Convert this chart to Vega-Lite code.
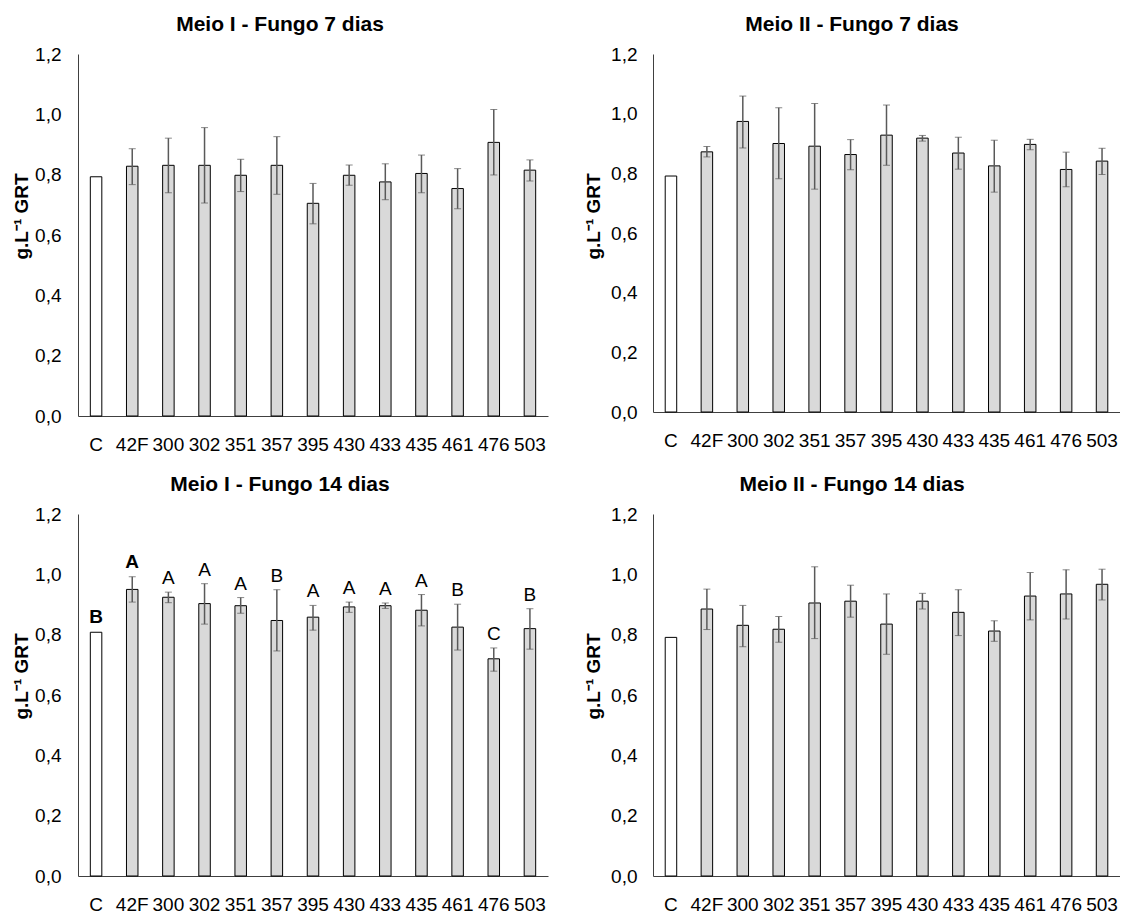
{
  "$schema": "https://vega.github.io/schema/vega-lite/v6.json",
  "padding": {"left": 12, "top": 14, "right": 0, "bottom": 0},
  "background": "white",
  "config": {
    "font": "Liberation Sans",
    "view": {"stroke": null},
    "axis": {"grid": false, "ticks": false, "tickSize": 0, "labelFontSize": 19, "labelColor": "#000", "domainColor": "#404040", "domainWidth": 1, "titleColor": "#000"},
    "title": {"fontSize": 21, "fontWeight": "bold", "color": "#000", "frame": "bounds", "anchor": "middle", "offset": 10}
  },
  "datasets": {
    "p1": [
      {"cat": "C", "mean": 0.793, "lo": 0.793, "hi": 0.793},
      {"cat": "42F", "mean": 0.828, "lo": 0.767, "hi": 0.886},
      {"cat": "300", "mean": 0.831, "lo": 0.740, "hi": 0.921},
      {"cat": "302", "mean": 0.831, "lo": 0.706, "hi": 0.956},
      {"cat": "351", "mean": 0.798, "lo": 0.744, "hi": 0.851},
      {"cat": "357", "mean": 0.831, "lo": 0.735, "hi": 0.926},
      {"cat": "395", "mean": 0.705, "lo": 0.637, "hi": 0.771},
      {"cat": "430", "mean": 0.798, "lo": 0.765, "hi": 0.832},
      {"cat": "433", "mean": 0.776, "lo": 0.717, "hi": 0.836},
      {"cat": "435", "mean": 0.804, "lo": 0.740, "hi": 0.865},
      {"cat": "461", "mean": 0.754, "lo": 0.687, "hi": 0.820},
      {"cat": "476", "mean": 0.907, "lo": 0.799, "hi": 1.016},
      {"cat": "503", "mean": 0.815, "lo": 0.779, "hi": 0.849}
    ],
    "p2": [
      {"cat": "C", "mean": 0.791, "lo": 0.791, "hi": 0.791},
      {"cat": "42F", "mean": 0.872, "lo": 0.855, "hi": 0.890},
      {"cat": "300", "mean": 0.974, "lo": 0.885, "hi": 1.059},
      {"cat": "302", "mean": 0.900, "lo": 0.782, "hi": 1.020},
      {"cat": "351", "mean": 0.891, "lo": 0.747, "hi": 1.034},
      {"cat": "357", "mean": 0.863, "lo": 0.812, "hi": 0.913},
      {"cat": "395", "mean": 0.928, "lo": 0.827, "hi": 1.029},
      {"cat": "430", "mean": 0.918, "lo": 0.908, "hi": 0.927},
      {"cat": "433", "mean": 0.868, "lo": 0.814, "hi": 0.921},
      {"cat": "435", "mean": 0.825, "lo": 0.737, "hi": 0.911},
      {"cat": "461", "mean": 0.897, "lo": 0.879, "hi": 0.914},
      {"cat": "476", "mean": 0.813, "lo": 0.755, "hi": 0.871},
      {"cat": "503", "mean": 0.841, "lo": 0.796, "hi": 0.884}
    ],
    "p3": [
      {"cat": "C", "mean": 0.808, "lo": 0.808, "hi": 0.808, "letter": "B"},
      {"cat": "42F", "mean": 0.950, "lo": 0.908, "hi": 0.992, "letter": "A"},
      {"cat": "300", "mean": 0.924, "lo": 0.906, "hi": 0.941, "letter": "A"},
      {"cat": "302", "mean": 0.903, "lo": 0.835, "hi": 0.969, "letter": "A"},
      {"cat": "351", "mean": 0.896, "lo": 0.871, "hi": 0.923, "letter": "A"},
      {"cat": "357", "mean": 0.847, "lo": 0.746, "hi": 0.949, "letter": "B"},
      {"cat": "395", "mean": 0.858, "lo": 0.815, "hi": 0.897, "letter": "A"},
      {"cat": "430", "mean": 0.892, "lo": 0.874, "hi": 0.908, "letter": "A"},
      {"cat": "433", "mean": 0.896, "lo": 0.887, "hi": 0.905, "letter": "A"},
      {"cat": "435", "mean": 0.881, "lo": 0.829, "hi": 0.933, "letter": "A"},
      {"cat": "461", "mean": 0.825, "lo": 0.749, "hi": 0.901, "letter": "B"},
      {"cat": "476", "mean": 0.720, "lo": 0.679, "hi": 0.756, "letter": "C"},
      {"cat": "503", "mean": 0.820, "lo": 0.752, "hi": 0.886, "letter": "B"}
    ],
    "p4": [
      {"cat": "C", "mean": 0.791, "lo": 0.791, "hi": 0.791},
      {"cat": "42F", "mean": 0.885, "lo": 0.817, "hi": 0.951},
      {"cat": "300", "mean": 0.831, "lo": 0.760, "hi": 0.897},
      {"cat": "302", "mean": 0.818, "lo": 0.775, "hi": 0.860},
      {"cat": "351", "mean": 0.905, "lo": 0.787, "hi": 1.025},
      {"cat": "357", "mean": 0.911, "lo": 0.858, "hi": 0.964},
      {"cat": "395", "mean": 0.835, "lo": 0.735, "hi": 0.935},
      {"cat": "430", "mean": 0.911, "lo": 0.885, "hi": 0.937},
      {"cat": "433", "mean": 0.874, "lo": 0.797, "hi": 0.949},
      {"cat": "435", "mean": 0.812, "lo": 0.778, "hi": 0.846},
      {"cat": "461", "mean": 0.928, "lo": 0.849, "hi": 1.006},
      {"cat": "476", "mean": 0.935, "lo": 0.852, "hi": 1.015},
      {"cat": "503", "mean": 0.967, "lo": 0.915, "hi": 1.017}
    ]
  },
  "bounds": "flush",
  "columns": 2,
  "spacing": {"row": 98, "column": 105},
  "resolve": {"scale": {"x": "independent", "y": "independent"}},
  "concat": [
    {
      "width": 470, "height": 362,
      "title": "Meio I - Fungo 7 dias",
      "data": {"name": "p1"},
      "encoding": {"x": {"field": "cat", "type": "nominal", "sort": null, "axis": {"title": null, "labelAngle": 0, "labelPadding": 19}}},
      "layer": [
        {"mark": {"type": "bar", "width": 11.5, "stroke": "#000", "strokeWidth": 1},
         "encoding": {"y": {"field": "mean", "type": "quantitative", "scale": {"domain": [0, 1.2]}, "axis": {"title": "g.L⁻¹ GRT", "titleFontSize": 19, "titleFontWeight": "bold", "titleX": -57, "titleY": 162, "titleBaseline": "middle", "values": [0, 0.2, 0.4, 0.6, 0.8, 1.0, 1.2], "labelPadding": 17, "labelExpr": "replace(format(datum.value, '.1f'), '.', ',')"}},
                      "fill": {"condition": {"test": "datum.cat === 'C'", "value": "#ffffff"}, "value": "#d9d9d9"}}},
        {"transform": [{"filter": "datum.hi > datum.lo"}],
         "mark": {"type": "errorbar", "ticks": {"size": 7, "color": "#595959", "strokeWidth": 1.5}, "rule": {"color": "#595959", "strokeWidth": 1.5}},
         "encoding": {"y": {"field": "lo", "type": "quantitative", "title": "g.L⁻¹ GRT"}, "y2": {"field": "hi"}}}
      ]
    },
    {
      "width": 467, "height": 358,
      "title": "Meio II - Fungo 7 dias",
      "data": {"name": "p2"},
      "encoding": {"x": {"field": "cat", "type": "nominal", "sort": null, "axis": {"title": null, "labelAngle": 0, "labelPadding": 19}}},
      "layer": [
        {"mark": {"type": "bar", "width": 11.5, "stroke": "#000", "strokeWidth": 1},
         "encoding": {"y": {"field": "mean", "type": "quantitative", "scale": {"domain": [0, 1.2]}, "axis": {"title": "g.L⁻¹ GRT", "titleFontSize": 19, "titleFontWeight": "bold", "titleX": -60, "titleY": 162, "titleBaseline": "middle", "values": [0, 0.2, 0.4, 0.6, 0.8, 1.0, 1.2], "labelPadding": 16, "labelExpr": "replace(format(datum.value, '.1f'), '.', ',')"}},
                      "fill": {"condition": {"test": "datum.cat === 'C'", "value": "#ffffff"}, "value": "#d9d9d9"}}},
        {"transform": [{"filter": "datum.hi > datum.lo"}],
         "mark": {"type": "errorbar", "ticks": {"size": 7, "color": "#595959", "strokeWidth": 1.5}, "rule": {"color": "#595959", "strokeWidth": 1.5}},
         "encoding": {"y": {"field": "lo", "type": "quantitative", "title": "g.L⁻¹ GRT"}, "y2": {"field": "hi"}}}
      ]
    },
    {
      "width": 470, "height": 362,
      "title": "Meio I - Fungo 14 dias",
      "data": {"name": "p3"},
      "encoding": {"x": {"field": "cat", "type": "nominal", "sort": null, "axis": {"title": null, "labelAngle": 0, "labelPadding": 19}}},
      "layer": [
        {"mark": {"type": "bar", "width": 11.5, "stroke": "#000", "strokeWidth": 1},
         "encoding": {"y": {"field": "mean", "type": "quantitative", "scale": {"domain": [0, 1.2]}, "axis": {"title": "g.L⁻¹ GRT", "titleFontSize": 19, "titleFontWeight": "bold", "titleX": -57, "titleY": 162, "titleBaseline": "middle", "values": [0, 0.2, 0.4, 0.6, 0.8, 1.0, 1.2], "labelPadding": 17, "labelExpr": "replace(format(datum.value, '.1f'), '.', ',')"}},
                      "fill": {"condition": {"test": "datum.cat === 'C'", "value": "#ffffff"}, "value": "#d9d9d9"}}},
        {"transform": [{"filter": "datum.hi > datum.lo"}],
         "mark": {"type": "errorbar", "ticks": {"size": 7, "color": "#595959", "strokeWidth": 1.5}, "rule": {"color": "#595959", "strokeWidth": 1.5}},
         "encoding": {"y": {"field": "lo", "type": "quantitative", "title": "g.L⁻¹ GRT"}, "y2": {"field": "hi"}}},
        {"transform": [{"filter": "datum.cat === 'C' || datum.cat === '42F'"}],
         "mark": {"type": "text", "fontSize": 19, "fontWeight": "bold", "color": "#000", "baseline": "middle", "dy": -15},
         "encoding": {"y": {"field": "hi", "type": "quantitative"}, "text": {"field": "letter"}}},
        {"transform": [{"filter": "datum.cat !== 'C' && datum.cat !== '42F'"}],
         "mark": {"type": "text", "fontSize": 19, "color": "#000", "baseline": "middle", "dy": -14},
         "encoding": {"y": {"field": "hi", "type": "quantitative"}, "text": {"field": "letter"}}}
      ]
    },
    {
      "width": 467, "height": 362,
      "title": "Meio II - Fungo 14 dias",
      "data": {"name": "p4"},
      "encoding": {"x": {"field": "cat", "type": "nominal", "sort": null, "axis": {"title": null, "labelAngle": 0, "labelPadding": 19}}},
      "layer": [
        {"mark": {"type": "bar", "width": 11.5, "stroke": "#000", "strokeWidth": 1},
         "encoding": {"y": {"field": "mean", "type": "quantitative", "scale": {"domain": [0, 1.2]}, "axis": {"title": "g.L⁻¹ GRT", "titleFontSize": 19, "titleFontWeight": "bold", "titleX": -60, "titleY": 162, "titleBaseline": "middle", "values": [0, 0.2, 0.4, 0.6, 0.8, 1.0, 1.2], "labelPadding": 16, "labelExpr": "replace(format(datum.value, '.1f'), '.', ',')"}},
                      "fill": {"condition": {"test": "datum.cat === 'C'", "value": "#ffffff"}, "value": "#d9d9d9"}}},
        {"transform": [{"filter": "datum.hi > datum.lo"}],
         "mark": {"type": "errorbar", "ticks": {"size": 7, "color": "#595959", "strokeWidth": 1.5}, "rule": {"color": "#595959", "strokeWidth": 1.5}},
         "encoding": {"y": {"field": "lo", "type": "quantitative", "title": "g.L⁻¹ GRT"}, "y2": {"field": "hi"}}}
      ]
    }
  ]
}
